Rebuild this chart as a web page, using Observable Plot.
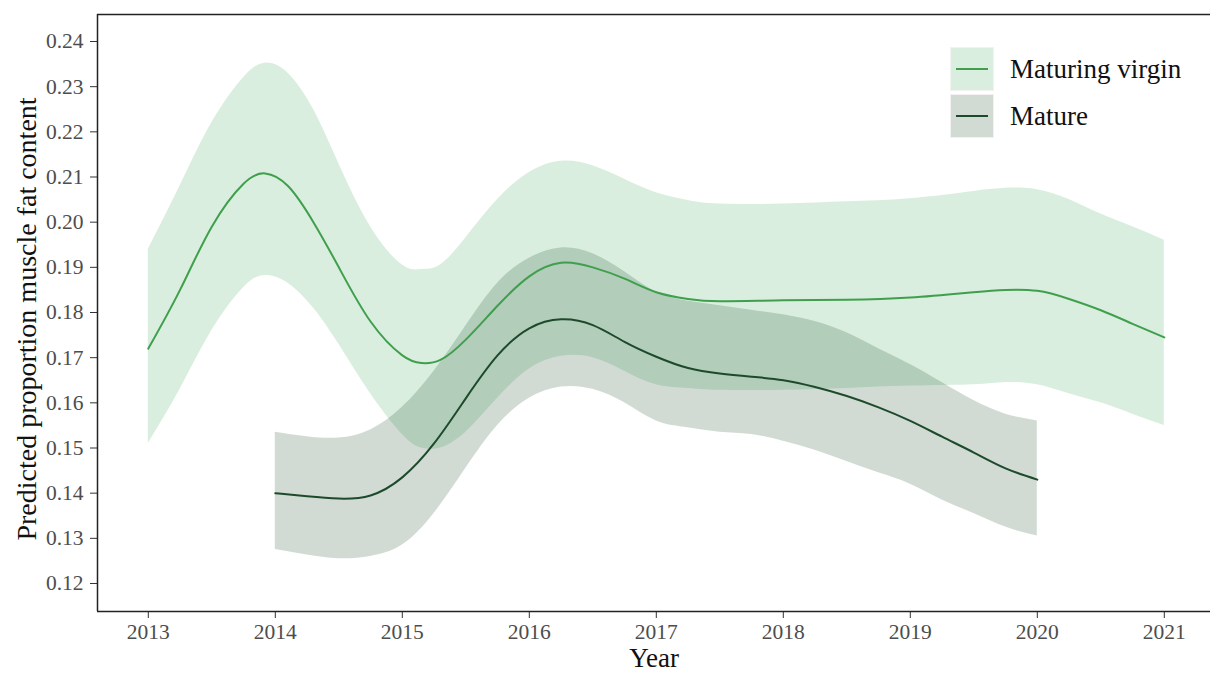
<!DOCTYPE html>
<html>
<head>
<meta charset="utf-8">
<script src="https://cdn.jsdelivr.net/npm/d3@7"></script>
<script src="https://cdn.jsdelivr.net/npm/@observablehq/plot@0.6"></script>
<style>
  html, body { margin: 0; padding: 0; background: #fff; }
  #wrap { position: relative; width: 1210px; height: 673px; overflow: hidden; font-family: "Liberation Serif", "Times New Roman", serif; }
  .key { position: absolute; left: 950px; width: 44px; height: 44px; box-sizing: border-box; border: 1px solid #f2f2f2; }
  .key .ln { position: absolute; left: 5px; right: 5px; top: 20px; height: 2px; }
  .lab { position: absolute; left: 1010px; font-size: 27px; color: #111; line-height: 44px; white-space: nowrap; }
</style>
</head>
<body>
<div id="wrap"></div>
<script>
// ---- data ----
const virginYears = [2013, 2013.25, 2013.5, 2013.75, 2013.92, 2014.1, 2014.3, 2014.5, 2014.75, 2015, 2015.15, 2015.3, 2015.5, 2015.75, 2016, 2016.25, 2016.5, 2016.75, 2017, 2017.25, 2017.5, 2018, 2018.5, 2019, 2019.5, 2019.75, 2020, 2020.25, 2020.5, 2020.75, 2021];
const virginFit   = [0.172, 0.185, 0.199, 0.2085, 0.2108, 0.208, 0.200, 0.190, 0.178, 0.1705, 0.1688, 0.1695, 0.174, 0.1815, 0.188, 0.191, 0.190, 0.1875, 0.1845, 0.183, 0.1825, 0.1827, 0.1828, 0.1833, 0.1845, 0.185, 0.1848, 0.183, 0.1805, 0.1775, 0.1745];
const virginUpper = [0.194, 0.208, 0.222, 0.232, 0.2352, 0.233, 0.225, 0.213, 0.199, 0.1905, 0.1895, 0.1905, 0.1965, 0.205, 0.211, 0.2135, 0.2125, 0.2095, 0.2065, 0.2048, 0.204, 0.204, 0.2045, 0.2052, 0.2068, 0.2075, 0.2072, 0.205, 0.2018, 0.199, 0.196];
const virginLower = [0.151, 0.163, 0.176, 0.1855, 0.1882, 0.1865, 0.181, 0.173, 0.162, 0.153, 0.150, 0.150, 0.1535, 0.161, 0.1675, 0.1703, 0.170, 0.167, 0.164, 0.1632, 0.1628, 0.1628, 0.1632, 0.1637, 0.164, 0.1645, 0.164, 0.162, 0.160, 0.1575, 0.155];

const matureYears = [2014, 2014.25, 2014.5, 2014.75, 2015, 2015.25, 2015.5, 2015.75, 2016, 2016.25, 2016.5, 2016.75, 2017, 2017.25, 2017.5, 2017.75, 2018, 2018.25, 2018.5, 2018.75, 2019, 2019.25, 2019.5, 2019.75, 2020];
const matureFit   = [0.140, 0.1393, 0.1388, 0.1395, 0.1435, 0.151, 0.161, 0.1705, 0.1765, 0.1785, 0.1772, 0.1735, 0.1702, 0.1677, 0.1665, 0.1658, 0.165, 0.1635, 0.1615, 0.159, 0.156, 0.1525, 0.149, 0.1455, 0.143];
const matureUpper = [0.1535, 0.1525, 0.1522, 0.154, 0.159, 0.167, 0.177, 0.1865, 0.192, 0.1943, 0.193, 0.189, 0.1845, 0.1825, 0.1815, 0.1805, 0.1795, 0.178, 0.1755, 0.172, 0.1685, 0.1645, 0.1605, 0.1575, 0.156];
const matureLower = [0.1275, 0.1263, 0.1255, 0.126, 0.1285, 0.1355, 0.1455, 0.155, 0.161, 0.1635, 0.163, 0.160, 0.156, 0.1545, 0.1535, 0.153, 0.1515, 0.1495, 0.147, 0.1445, 0.142, 0.1385, 0.1355, 0.1325, 0.1305];

const groups = ["Maturing virgin", "Mature"];
const xTicks = [2013, 2014, 2015, 2016, 2017, 2018, 2019, 2020, 2021];
const yTicks = [0.12, 0.13, 0.14, 0.15, 0.16, 0.17, 0.18, 0.19, 0.20, 0.21, 0.22, 0.23, 0.24];

const lineColors = {"Maturing virgin": "#3f9f4c", "Mature": "#1d4a2b"};
const fillColors = {"Maturing virgin": "#41ab5d", "Mature": "#1b4a2a"};

const virgin = virginYears.map((x, i) => ({x, fit: virginFit[i], lo: virginLower[i], hi: virginUpper[i], g: groups[0]}));
const mature = matureYears.map((x, i) => ({x, fit: matureFit[i], lo: matureLower[i], hi: matureUpper[i], g: groups[1]}));

const xDomain = [2012.6, 2012.6 + 1113 / 127];
const yDomain = [0.1138, 0.24598];
const font = '"Liberation Serif", "Times New Roman", serif';
const curve = "natural";

const chart = Plot.plot({
  width: 1210,
  height: 673,
  marginLeft: 97,
  marginRight: 0,
  marginTop: 14,
  marginBottom: 62,
  style: {fontFamily: font, fontSize: "21.5px", color: "#4d4d4d", background: "#fff"},
  x: {domain: xDomain},
  y: {domain: yDomain},
  marks: [
    Plot.areaY(virgin, {x: "x", y1: "lo", y2: "hi", fill: fillColors[groups[0]], fillOpacity: 0.2, curve}),
    Plot.areaY(mature, {x: "x", y1: "lo", y2: "hi", fill: fillColors[groups[1]], fillOpacity: 0.2, curve}),
    Plot.line(virgin, {x: "x", y: "fit", stroke: lineColors[groups[0]], strokeWidth: 2, curve}),
    Plot.line(mature, {x: "x", y: "fit", stroke: lineColors[groups[1]], strokeWidth: 2, curve}),
    Plot.axisX({ticks: xTicks, tickFormat: d => String(d), tickSize: 7, tickPadding: 5, label: null, stroke: "#333", fill: "#4d4d4d"}),
    Plot.axisY({ticks: yTicks, tickFormat: d3.format(".2f"), tickSize: 7, tickPadding: 7, label: null, stroke: "#333", fill: "#4d4d4d"}),
    Plot.ruleY([yDomain[0]], {stroke: "#222", strokeWidth: 1.5}),
    Plot.ruleY([yDomain[1]], {stroke: "#222", strokeWidth: 1.5}),
    Plot.ruleX([xDomain[0]], {stroke: "#222", strokeWidth: 1.5}),
    Plot.text(["Year"], {frameAnchor: "bottom", dy: 47, lineAnchor: "middle", fontSize: 27, fill: "#111", fontFamily: font}),
    Plot.text(["Predicted proportion muscle fat content"], {frameAnchor: "left", dx: -70, dy: 6, rotate: -90, textAnchor: "middle", lineAnchor: "middle", fontSize: 28, fill: "#111", fontFamily: font})
  ]
});

const wrap = document.getElementById("wrap");
wrap.appendChild(chart);

// legend
const tops = [47, 94];
groups.forEach((g, i) => {
  const key = document.createElement("div");
  key.className = "key";
  key.style.top = tops[i] + "px";
  key.style.background = i === 0 ? "rgb(218,238,223)" : "rgb(209,219,212)";
  const ln = document.createElement("div");
  ln.className = "ln";
  ln.style.background = lineColors[g];
  key.appendChild(ln);
  wrap.appendChild(key);
  const lab = document.createElement("div");
  lab.className = "lab";
  lab.style.top = tops[i] + "px";
  lab.textContent = g;
  wrap.appendChild(lab);
});
</script>
</body>
</html>
